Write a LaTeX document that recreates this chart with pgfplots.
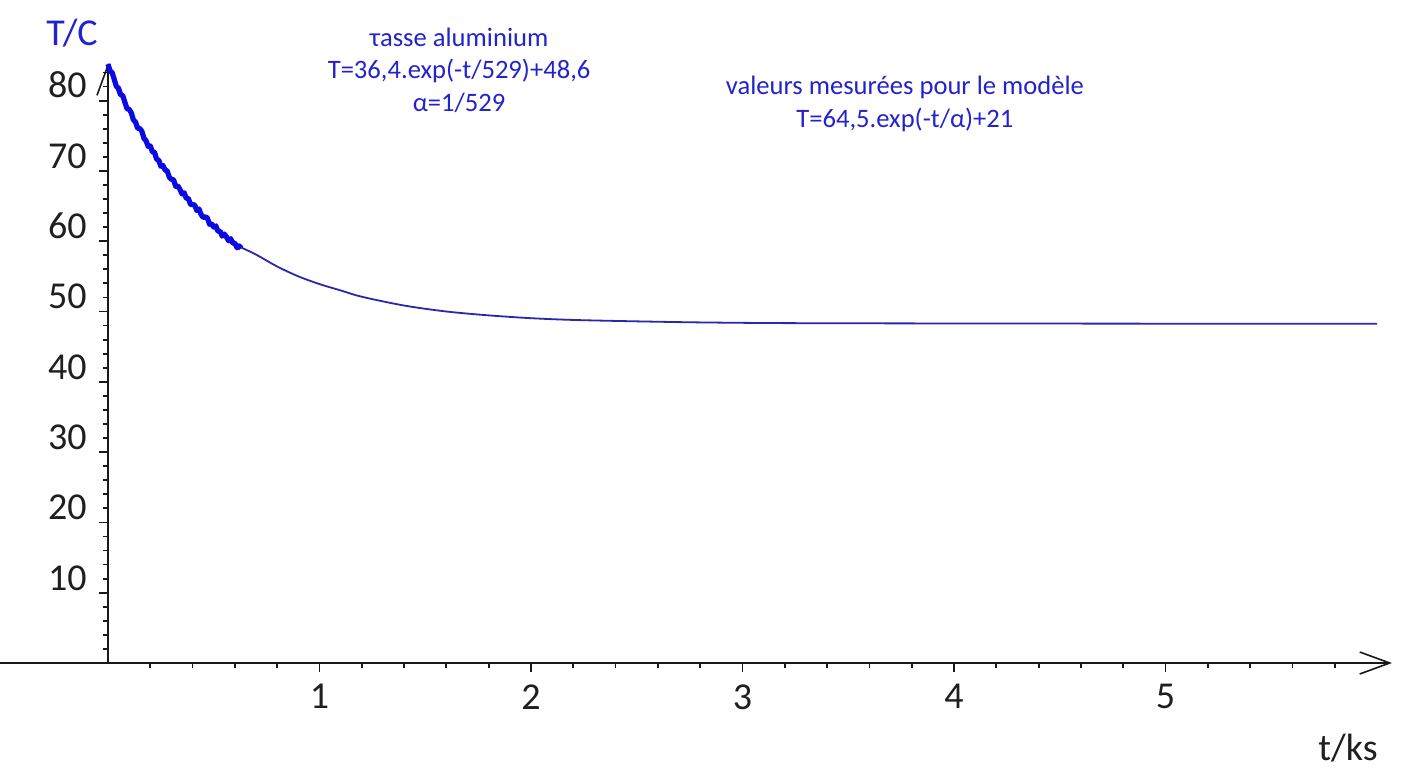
\documentclass[border=0pt]{standalone}
\usepackage{fontspec}
\setmainfont{Carlito}
\usepackage{pgfplots}
\pgfplotsset{compat=1.18}
\usetikzlibrary{arrows.meta}
\definecolor{txtblue}{RGB}{35,35,205}
\definecolor{curveblue}{RGB}{10,10,228}
\definecolor{lineblue}{RGB}{40,40,175}
\begin{document}
\begin{tikzpicture}
\begin{axis}[
  scale only axis, width=696pt, height=300pt,
  xmin=-0.5106, xmax=6.071, ymin=0, ymax=85.35,
  axis lines=middle,
  axis line style={line width=0.8pt, color=black!90},
  every inner x axis line/.append style={-{Straight Barb[length=15pt,width=11pt]}},
  every inner y axis line/.append style={-{Straight Barb[length=15pt,width=11pt]}},
  xtick={1,2,3,4,5}, ytick={10,20,30,40,50,60,70,80},
  minor xtick={0.2,0.4,0.6,0.8,1.2,1.4,1.6,1.8,2.2,2.4,2.6,2.8,3.2,3.4,3.6,3.8,4.2,4.4,4.6,4.8,5.2,5.4,5.6,5.8},
  minor ytick={2,4,6,8,12,14,16,18,22,24,26,28,32,34,36,38,42,44,46,48,52,54,56,58,62,64,66,68,72,74,76,78,82,84},
  tick align=outside,
  major tick length=4.5pt, minor tick length=2.3pt,
  tick style={line width=0.9pt, black!90},
  /pgf/number format/assume math mode=true,
  ticklabel style={font=\fontsize{19}{20}\selectfont, text=black!88, inner sep=0pt},
  xticklabel style={anchor=north, yshift=-6pt},
  yticklabel style={anchor=south east, xshift=-6pt, yshift=1pt},
  clip=false,
]
% measured values (noisy band)
\addplot[curveblue, line width=2.6pt, line join=round] coordinates {
(0.00,85.2) (0.01,84.22) (0.02,83.98) (0.03,82.97) (0.04,82.00) (0.05,81.77)
(0.06,80.83) (0.07,80.71) (0.08,79.74) (0.09,78.85) (0.10,78.76) (0.11,78.29)
(0.12,77.27) (0.13,76.97) (0.14,76.07) (0.15,76.04) (0.16,75.66) (0.17,74.65)
(0.18,74.28) (0.19,73.49) (0.20,73.55) (0.21,72.73) (0.22,72.66) (0.23,71.65)
(0.24,71.54) (0.25,70.65) (0.26,70.76) (0.27,70.13) (0.28,70.00) (0.29,69.10)
(0.30,68.79) (0.31,68.75) (0.32,67.80) (0.33,67.87) (0.34,67.38) (0.35,66.72)
(0.36,66.90) (0.37,66.10) (0.38,66.09) (0.39,65.25) (0.40,65.21) (0.41,65.14)
(0.42,64.36) (0.43,64.59) (0.44,63.82) (0.45,63.37) (0.46,63.46) (0.47,63.31)
(0.48,62.41) (0.49,62.48) (0.50,62.00) (0.51,62.18) (0.52,61.40) (0.53,61.43)
(0.54,60.72) (0.55,61.02) (0.56,60.61) (0.57,60.06) (0.58,60.36) (0.59,59.72)
(0.60,59.74) (0.61,59.07) (0.62,59.34) (0.63,59.0)
};
% model curve
\addplot[lineblue, line width=0.9pt, smooth] coordinates {
(0.63,59.1) (0.7,58.1) (0.8,56.4) (0.9,55.0) (1.0,53.9) (1.1,53.0)
(1.2,52.1) (1.4,50.85) (1.6,50.0) (1.8,49.45) (2.0,49.05) (2.2,48.8)
(2.5,48.6) (2.8,48.45) (3.2,48.35) (4.0,48.3) (5.0,48.27) (6.0,48.25)
};
\node[text=txtblue, font=\fontsize{19}{20}\selectfont] at (axis cs:-0.170,89.6) {T/C};
\node[text=black!88, font=\fontsize{19}{20}\selectfont] at (axis cs:5.863,-12.1) {t/ks};
\node[text=txtblue, align=center, font=\fontsize{13.3}{16.3}\selectfont] at (axis cs:1.660,84.35)
  {τasse aluminium\\T=36,4.exp(-t/529)+48,6\\α=1/529};
\node[text=txtblue, align=center, font=\fontsize{13.3}{16.5}\selectfont] at (axis cs:3.768,79.6)
  {valeurs mesurées pour le modèle\\T=64,5.exp(-t/α)+21};
\end{axis}
\pgfresetboundingbox
\path[use as bounding box] ([yshift=-53.5pt]current axis.south west) rectangle ([xshift=4.5pt,yshift=31.5pt]current axis.north east);
\end{tikzpicture}
\end{document}
